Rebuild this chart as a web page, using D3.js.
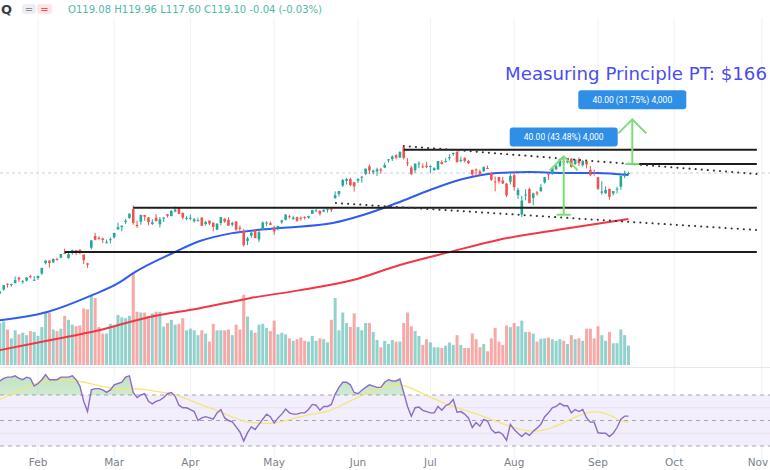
<!DOCTYPE html>
<html><head><meta charset="utf-8">
<script src="https://cdn.jsdelivr.net/npm/d3@7"></script>
<style>body{margin:0;background:#fff;} svg{display:block;font-family:"DejaVu Sans",sans-serif;}</style>
</head><body><svg id="c" width="770" height="470"></svg>
<script>
// ---------- DATA ----------
const firstIndex = -11; // Jan 17 2024 (Feb 1 = 0)
const opens = [55.0,56.6,57.9,60.0,59.9,60.2,62.3,60.9,61.2,62.9,61.4,
62.2,63.9,68.2,69.3,68.5,70.0,70.5,72.6,70.4,73.2,73.9,74.1,71.9,68.1,75.0,80.7,79.7,79.4,77.6,79.1,
80.0,84.1,85.2,88.0,90.2,95.2,86.4,88.1,91.8,90.5,86.9,90.3,86.7,89.9,92.3,91.2,93.9,95.9,93.1,90.0,
90.3,88.4,88.5,90.4,86.8,88.7,87.6,83.9,87.4,89.7,89.1,86.5,88.3,84.9,83.1,78.2,80.8,83.9,78.9,83.8,87.5,87.3,
85.0,84.5,87.8,89.2,91.1,89.5,90.6,90.3,90.7,90.4,92.5,94.3,94.2,93.8,95.0,95.4,102.0,104.5,110.2,113.5,114.7,112.5,
113.6,115.7,118.4,124.1,119.8,120.4,121.8,123.1,129.4,129.9,133.0,131.1,139.8,127.1,123.2,121.2,126.1,124.1,124.6,
123.5,121.1,121.7,127.4,127.5,130.4,134.0,135.8,128.3,130.6,128.4,121.4,121.9,120.4,120.4,122.8,119.2,113.0,116.2,113.7,111.5,112.9,
117.5,103.8,92.1,103.8,107.8,102.0,105.6,106.3,112.4,118.5,118.8,121.9,124.3,128.4,127.3,130.0,125.9,129.6,125.05,128.1,121.4,119.5,
116.0,105.4,104.99,108.0,104.9,107.8,109.4,116.8,119.08];
const highs = [56.3,57.5,59.5,60.2,60.0,62.8,62.7,61.4,62.5,63.4,62.9,
63.1,66.2,69.4,69.3,70.1,70.5,72.1,74.6,72.9,74.2,73.9,74.4,71.9,68.3,78.6,82.3,80.6,79.9,78.9,79.9,
82.3,87.6,86.1,89.7,92.7,97.4,88.7,91.9,91.8,90.6,89.5,92.4,90.6,90.4,92.5,94.7,96.8,96.4,93.2,91.2,
92.2,90.1,90.3,90.6,88.6,88.8,87.6,87.4,90.7,90.1,90.6,88.1,88.4,86.1,84.3,80.2,82.5,84.0,83.5,88.2,88.3,88.1,
86.0,86.0,89.2,92.2,91.8,91.2,90.9,91.0,91.1,91.4,94.9,95.3,94.7,95.2,95.4,96.2,106.3,106.5,114.9,115.5,115.8,112.7,
115.0,117.0,122.4,125.6,121.7,123.1,122.9,126.9,129.8,132.8,133.7,136.3,140.76,130.6,124.5,126.5,128.1,126.4,127.7,
124.9,123.4,128.3,128.9,130.8,133.8,135.1,136.2,131.9,131.4,128.9,121.6,122.4,121.6,124.1,124.7,119.9,116.6,116.2,116.3,112.0,118.3,
120.2,108.7,103.4,107.7,108.8,105.5,106.6,111.1,116.2,118.6,123.2,125.0,130.0,129.9,129.4,130.75,129.6,131.3,129.2,128.3,124.4,121.75,
116.2,113.3,109.65,108.15,106.55,109.4,117.2,120.8,119.96];
const lows = [54.6,56.2,57.5,58.6,58.9,60.2,60.7,60.0,60.9,62.0,61.2,
61.4,63.4,67.6,66.3,68.3,69.3,70.3,72.1,70.1,71.8,71.6,72.0,67.7,66.25,74.2,78.5,78.9,77.2,77.0,77.0,
79.4,83.8,83.0,86.8,89.7,86.5,84.8,86.4,88.6,86.1,86.3,88.3,85.0,88.0,90.4,91.1,93.4,92.5,89.3,89.0,
88.9,87.6,88.4,85.9,86.0,86.2,83.0,83.6,86.1,87.5,85.9,85.6,83.2,82.4,75.6,76.2,79.7,79.6,77.7,83.7,85.8,86.4,
81.2,83.5,87.0,88.8,89.9,89.3,88.0,88.7,89.3,89.7,92.4,94.0,91.5,93.4,93.2,93.5,101.5,103.0,109.1,110.9,109.7,106.2,
112.0,112.2,117.5,118.3,118.0,117.0,118.7,122.7,127.1,128.3,129.6,130.7,129.5,124.3,118.0,119.3,122.6,122.9,122.6,
118.9,121.0,121.4,125.7,127.0,128.7,132.4,127.1,127.2,127.2,125.97,116.7,116.7,117.4,119.9,122.1,113.4,106.3,111.6,111.3,102.5,110.9,
106.8,101.4,90.69,100.6,98.7,97.5,103.4,106.3,111.6,114.1,117.7,121.2,123.4,125.9,126.5,123.1,125.2,124.4,123.9,122.6,116.7,117.2,
107.3,104.1,104.8,100.95,103.7,104.95,107.4,115.4,117.6];
const closes = [56.05,57.1,59.5,59.7,59.9,61.35,61.6,61.0,62.4,62.8,61.5,
63.0,66.2,69.3,68.2,70.0,69.6,72.1,72.2,72.1,73.9,72.6,72.6,69.4,67.5,78.5,78.8,79.1,78.7,77.6,79.1,
82.2,85.2,85.96,88.7,92.6,87.5,85.8,91.9,90.9,87.9,87.8,88.4,89.4,90.4,91.4,94.2,95.0,92.5,90.3,90.3,
90.3,89.4,88.9,85.9,88.0,87.1,85.3,87.0,90.6,88.2,86.0,87.4,84.0,84.6,76.2,79.5,82.4,79.6,82.6,87.7,87.7,86.4,
83.0,85.8,88.8,92.1,90.55,90.4,88.7,89.9,90.4,91.3,94.6,94.4,92.5,94.8,95.4,94.95,103.8,106.5,114.0,114.8,110.5,109.6,
115.0,116.4,122.4,121.0,120.9,121.8,120.9,125.2,129.6,131.9,131.0,135.6,130.8,126.6,118.1,126.1,126.4,124.0,123.5,
124.3,122.7,128.3,125.8,128.2,131.4,134.9,127.4,129.2,128.4,126.4,117.99,121.1,117.9,123.5,122.6,114.25,112.3,113.06,111.6,103.7,117.0,
109.2,107.3,100.45,104.25,98.9,104.97,104.75,109.0,116.1,118.1,122.9,124.6,130.0,127.25,128.5,123.7,129.4,126.5,128.3,125.6,117.6,119.4,
108.0,106.2,107.2,102.8,106.5,108.1,116.9,119.1,119.1];
const volumes = [400,520,540,440,330,430,380,400,370,420,410,
360,470,660,650,440,420,450,610,560,500,480,490,700,690,865,830,470,390,390,510,
480,620,590,580,610,1140,660,650,650,610,640,660,660,475,520,560,500,510,580,430,
450,430,370,430,390,290,510,430,430,430,440,370,500,440,870,600,430,400,500,510,460,420,
550,380,400,380,330,300,320,340,300,290,360,300,330,320,280,560,830,430,650,520,470,640,
470,430,520,520,410,310,220,300,260,310,290,290,520,650,480,420,360,250,320,
280,220,220,210,240,280,250,370,250,210,210,390,320,220,260,170,330,460,290,250,490,470,
520,480,550,410,410,390,290,325,330,340,320,300,320,300,260,370,320,330,300,450,450,330,
480,370,300,410,270,270,440,370,240];
const rsiValues = [78,81,83,84,84,85,83,82,84,83,77,
79,82,86,82,82,82,84,84,84,85,82,77,65,57,74,75,75,74,72,74,
78,79,80,84,85,72,68,70,71,65,63,65,66,68,71,72,69,62,60,60,
58.6,57,50,52,53,52,51,56,58.6,52,50,49,45,41,34,40.5,45,43,47,51,55,53,
48,52,55,59,56,55,55,56,56,58.6,62.6,62,58,61,61,62.6,70.5,76,80,80,78,72,
71,73.7,76,78,77,76,76,80,82,81,81,82.5,72,61,53.4,60,60.5,58,57,
56,56,61,58,61.6,63,66.5,56.5,57,55,52,44.5,48.4,45.5,50.8,49.6,43,40.3,41,39,34.5,47,
43,40,37.4,40.3,38.3,41.6,44,47,53,56,60,61,63.4,61.6,61.6,56,58.6,57,58.6,52,48.7,48.7,
40.4,40,40,37.4,40,44.5,51,53.4,53.4];
// RSI moving average, read at sample bars [barIndex, value]
const rsiMA = [[-10,66.5],[-2,78],[3,82],[10,82],[16,77],[20,75],[24,74.4],[27,75],[29,73.7],[33,72],[36,70.5],[39,67],
[42.5,62.6],[46.5,58.6],[50.4,53.4],[54.3,49],[57,48],[59.6,47.5],[62.2,48],[64.8,49.5],[68.8,53],[72.7,55.5],[76.6,57],
[80.6,63.4],[84.5,69],[88.5,74],[92.4,77],[95,78.3],[97.6,76],[100.3,72],[103.7,67.3],[107.3,62.6],[110.8,59.2],[114.2,56],
[117.8,52.2],[121.3,48.4],[124.7,44.5],[128.3,41.6],[131.8,41.6],[135.2,44.5],[138.8,49.5],[142.3,54.7],[145.7,57.3],
[148.3,56.3],[150.9,53.4],[152.8,49.5],[155,48.7]];
// 50-day and 200-day moving averages [barIndex, price]
const sma50 = [[-10,47.9],[2.4,50.4],[13.6,55.6],[21.5,60.6],[25,64.1],[35.4,72.6],[42.5,78.2],[51,82.1],[63.5,84.7],
[77.4,87.4],[85.3,91.8],[94.2,98.9],[102.9,107.2],[111.5,114.7],[120.5,119.1],[129,119.8],[137.8,119.1],[146.7,119.1],[155,117.6]];
const sma200 = [[-10,39.8],[3,42.3],[16,45.0],[29,48.8],[42.5,51.6],[55.6,54.9],[68.8,57.7],[82.7,61.4],[95,67.4],
[108,73.0],[120.5,78.6],[137.8,84.2],[155,89.6]];
const monthLabels = ["Feb","Mar","Apr","May","Jun","Jul","Aug","Sep","Oct","Nov"];
const monthIndex = [0,20,40,62,84,103,125,147,167,190];
// horizontal levels [price, startBar]
const levels = [[137.5,96],[126,155.5],[96,25],[73,7]];
// dotted trend lines [bar1, price1, bar2, price2]
const trends = [[96,140.8,188.7,118.4],[78.2,98.9,188.7,83.7]];
// measuring arrows [bar, fromPrice, toPrice, label]
const measures = [[138,92,132,"40.00 (43.48%) 4,000"],[156,126,166,"40.00 (31.75%) 4,000"]];
const lastPrice = 119.10;
const title = "Measuring Principle PT: $166";
const header = "O119.08 H119.96 L117.60 C119.10 -0.04 (-0.03%)";

// ---------- SCALES ----------
const svg = d3.select("#c");
const W = 770;
const x = d3.scaleLinear().domain([0,147]).range([38,598]);
const y = d3.scaleLog().domain([36.3,307]).range([365,20]);
const yV = d3.scaleLinear().domain([0,1140]).range([365,273]);
const yR = d3.scaleLinear().domain([30,70]).range([446,395]);
const endBar = 188.7;

svg.append("rect").attr("width",W).attr("height",470).attr("fill","#fff");
const defs = svg.append("defs");
defs.append("clipPath").attr("id","mainClip").append("rect").attr("x",0).attr("y",18).attr("width",W).attr("height",349);
defs.append("clipPath").attr("id","rsiClip").append("rect").attr("x",0).attr("y",368).attr("width",W).attr("height",90);
defs.append("clipPath").attr("id","obClip").append("rect").attr("x",0).attr("y",368).attr("width",W).attr("height",yR(70)-368);
const grad = defs.append("linearGradient").attr("id","gUp").attr("x1",0).attr("y1",0).attr("x2",0).attr("y2",1);
grad.append("stop").attr("offset","0%").attr("stop-color","#4caf50").attr("stop-opacity",0.35);
grad.append("stop").attr("offset","100%").attr("stop-color","#4caf50").attr("stop-opacity",0.05);

// grid
const grid = svg.append("g");
monthIndex.forEach(m=>{
  grid.append("line").attr("x1",x(m)).attr("x2",x(m)).attr("y1",18).attr("y2",458)
    .attr("stroke","#eef1f6").attr("stroke-width",1);
});
// pane separator
svg.append("line").attr("x1",0).attr("x2",W).attr("y1",367.5).attr("y2",367.5).attr("stroke","#e6e8ee");

// ---------- MAIN PANE ----------
const main = svg.append("g").attr("clip-path","url(#mainClip)");
const bars = closes.map((c,i)=>({i:i+firstIndex,o:opens[i],h:highs[i],l:lows[i],c:c,v:volumes[i]}));
// volume
main.append("g").selectAll("rect").data(bars).join("rect")
  .attr("x",d=>x(d.i)-1.5).attr("width",3)
  .attr("y",d=>yV(d.v)).attr("height",d=>yV(0)-yV(d.v))
  .attr("fill",d=>d.c>=d.o?"rgba(38,166,154,0.5)":"rgba(239,83,80,0.5)");
// last price line
main.append("line").attr("x1",0).attr("x2",W).attr("y1",y(lastPrice)).attr("y2",y(lastPrice))
  .attr("stroke","#c9ced6").attr("stroke-dasharray","3,3");
// moving averages
const maLine = d3.line().x(d=>x(d[0])).y(d=>y(d[1])).curve(d3.curveMonotoneX);
main.append("path").attr("d",maLine(sma200)).attr("fill","none").attr("stroke","#f23645").attr("stroke-width",2);
main.append("path").attr("d",maLine(sma50)).attr("fill","none").attr("stroke","#2f5cf2").attr("stroke-width",2);
// candles
const cg = main.append("g");
cg.selectAll("line").data(bars).join("line")
  .attr("x1",d=>x(d.i)).attr("x2",d=>x(d.i)).attr("y1",d=>y(d.h)).attr("y2",d=>y(d.l))
  .attr("stroke",d=>d.c>=d.o?"#26a69a":"#ef5350").attr("stroke-width",1);
cg.selectAll("rect").data(bars).join("rect")
  .attr("x",d=>x(d.i)-1.3).attr("width",2.6)
  .attr("y",d=>y(Math.max(d.o,d.c))).attr("height",d=>Math.max(1,Math.abs(y(d.o)-y(d.c))))
  .attr("fill",d=>d.c>=d.o?"#26a69a":"#ef5350");
// levels
levels.forEach(l=>{
  main.append("line").attr("x1",x(l[1])).attr("x2",x(endBar)).attr("y1",y(l[0])).attr("y2",y(l[0]))
    .attr("stroke","#1c1c1c").attr("stroke-width",2);
});
// dotted trend lines
trends.forEach(t=>{
  main.append("line").attr("x1",x(t[0])).attr("y1",y(t[1])).attr("x2",x(t[2])).attr("y2",y(t[3]))
    .attr("stroke","#333").attr("stroke-width",2).attr("stroke-linecap","round").attr("stroke-dasharray","0.1,6");
});
// measuring arrows
measures.forEach(m=>{
  const ax = x(m[0]), y0 = y(m[1]), y1 = y(m[2]);
  const g = svg.append("g").attr("stroke","#7ddc7a").attr("stroke-width",2).attr("fill","none");
  g.append("line").attr("x1",ax).attr("x2",ax).attr("y1",y0).attr("y2",y1);
  g.append("line").attr("x1",ax-7).attr("x2",ax+7).attr("y1",y0).attr("y2",y0);
  g.append("path").attr("d",`M${ax-14},${y1+14}L${ax},${y1}L${ax+14},${y1+14}`);
  const bw = 108, bh = 19, by = y1 - 29;
  svg.append("rect").attr("x",ax-bw/2).attr("y",by).attr("width",bw).attr("height",bh).attr("rx",3)
    .attr("fill","#2f8ee5");
  svg.append("text").attr("x",ax).attr("y",by+13).attr("text-anchor","middle")
    .attr("font-size",8.5).attr("fill","#fff").attr("font-family","Roboto, sans-serif").text(m[3]);
});
// title
svg.append("text").attr("x",505).attr("y",80).attr("font-size",17).attr("fill","#4a4cf2")
  .attr("textLength",262).attr("lengthAdjust","spacingAndGlyphs").text(title);

// ---------- RSI PANE ----------
const rp = svg.append("g").attr("clip-path","url(#rsiClip)");
rp.append("rect").attr("x",0).attr("width",W).attr("y",yR(70)).attr("height",yR(30)-yR(70)).attr("fill","#f3eefb");
[60,40].forEach(v=>rp.append("line").attr("x1",0).attr("x2",W).attr("y1",yR(v)).attr("y2",yR(v)).attr("stroke","#e8e0f2"));
[70,50,30].forEach(v=>rp.append("line").attr("x1",0).attr("x2",W).attr("y1",yR(v)).attr("y2",yR(v))
  .attr("stroke","#a3a6b0").attr("stroke-dasharray","4,4"));
const rsiPts = rsiValues.map((v,i)=>[i+firstIndex,v]);
rp.append("path").attr("clip-path","url(#obClip)")
  .attr("d",d3.area().x(d=>x(d[0])).y0(yR(70)).y1(d=>yR(d[1]))(rsiPts)).attr("fill","url(#gUp)");
rp.append("path").attr("d",d3.line().x(d=>x(d[0])).y(d=>yR(d[1])).curve(d3.curveBasis)(rsiMA))
  .attr("fill","none").attr("stroke","#f3e779").attr("stroke-width",1.3);
rp.append("path").attr("d",d3.line().x(d=>x(d[0])).y(d=>yR(d[1]))(rsiPts))
  .attr("fill","none").attr("stroke","#8b6cc9").attr("stroke-width",1.4);

// ---------- X AXIS LABELS ----------
svg.append("g").selectAll("text").data(monthLabels).join("text")
  .attr("x",(d,i)=>Math.min(x(monthIndex[i]), W-12)).attr("y",466).attr("text-anchor","middle")
  .attr("font-size",10.5).attr("fill","#7c7f88").text(d=>d);

// ---------- HEADER ----------
svg.append("text").attr("x",1).attr("y",14).attr("font-size",13).attr("font-weight","bold").attr("fill","#3a3d46").text("Q");
svg.append("rect").attr("x",22).attr("y",4).attr("width",14).attr("height",10).attr("rx",3).attr("fill","#eceef2");
svg.append("rect").attr("x",37).attr("y",4).attr("width",15).attr("height",10).attr("rx",3).attr("fill","#fde4e6");
svg.append("text").attr("x",29).attr("y",12.5).attr("text-anchor","middle").attr("font-size",10).attr("fill","#8a8d96").text("=");
svg.append("text").attr("x",44.5).attr("y",12.5).attr("text-anchor","middle").attr("font-size",10).attr("fill","#ef5350").text("=");
svg.append("text").attr("x",68).attr("y",13).attr("font-size",10).attr("fill","#4fb8aa")
  .attr("textLength",254).attr("lengthAdjust","spacingAndGlyphs").text(header);
</script></body></html>
